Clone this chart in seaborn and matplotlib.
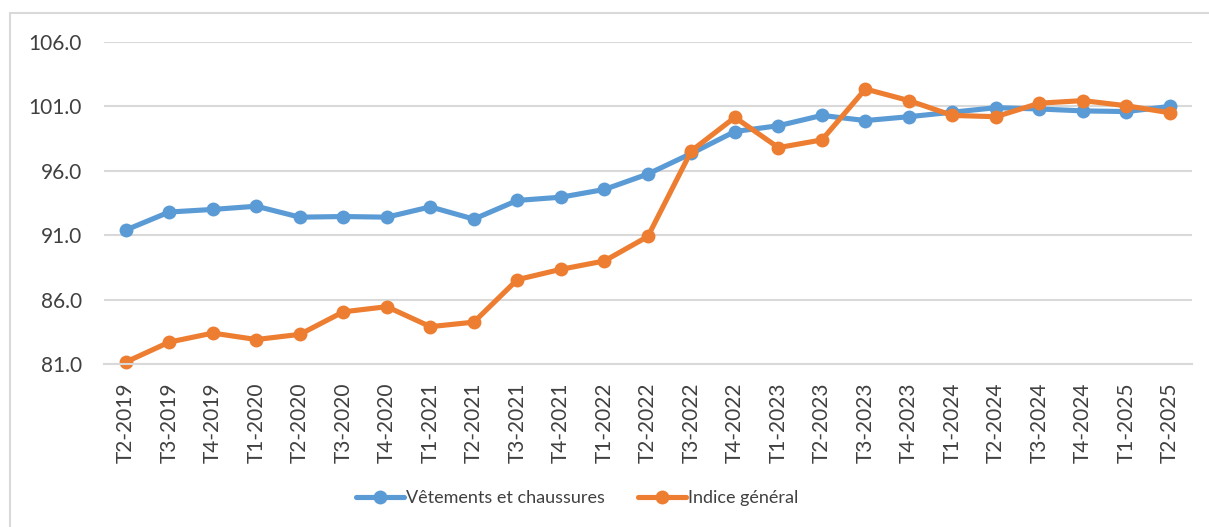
import pandas as pd
import matplotlib.pyplot as plt
import seaborn as sns
from matplotlib.patches import Rectangle

# quarters on the x axis
quarters = ['T2-2019', 'T3-2019', 'T4-2019', 'T1-2020', 'T2-2020', 'T3-2020', 'T4-2020',
            'T1-2021', 'T2-2021', 'T3-2021', 'T4-2021', 'T1-2022', 'T2-2022', 'T3-2022',
            'T4-2022', 'T1-2023', 'T2-2023', 'T3-2023', 'T4-2023', 'T1-2024', 'T2-2024',
            'T3-2024', 'T4-2024', 'T1-2025', 'T2-2025']

# index values
vetements = [91.4, 92.8, 93.0, 93.25, 92.4, 92.45, 92.4, 93.2, 92.25, 93.7, 93.95, 94.55,
             95.75, 97.35, 99.05, 99.5, 100.3, 99.9, 100.2, 100.55, 100.9, 100.8, 100.65,
             100.6, 101.0]
indice = [81.15, 82.7, 83.4, 82.9, 83.3, 85.05, 85.45, 83.9, 84.25, 87.55, 88.35, 89.0,
          90.9, 97.55, 100.15, 97.8, 98.4, 102.35, 101.45, 100.3, 100.2, 101.25, 101.45,
          101.05, 100.5]

series_names = ['Vêtements et chaussures', 'Indice général']
colors = ['#5B9BD5', '#ED7D31']
yticks = [81.0, 86.0, 91.0, 96.0, 101.0, 106.0]

df = pd.DataFrame({
    'trimestre': quarters * 2,
    'valeur': vetements + indice,
    'serie': [series_names[0]] * len(quarters) + [series_names[1]] * len(quarters),
})

sns.set_theme(style="white")
plt.rcParams['font.family'] = ['Lato', 'DejaVu Sans']
text_color = '#404040'

fig = plt.figure(figsize=(12.09, 5.27), dpi=100)
ax = fig.add_axes([104 / 1209, 1 - 364 / 527, (1191.75 - 104) / 1209, (364 - 42) / 527])

# outer chart border (only left and top visible)
fig.patches.append(Rectangle((10 / 1209, -0.1), 1.2, 1 - 13 / 527 + 0.1,
                             transform=fig.transFigure, fill=False,
                             edgecolor='#D9D9D9', linewidth=1.5, zorder=0))

sns.lineplot(data=df, x='trimestre', y='valeur', hue='serie', palette=colors,
             marker='o', markersize=10, markeredgewidth=0, linewidth=3.7,
             sort=False, ax=ax)

# let the markers sit over the axis edge like the original
for line in ax.lines:
    line.set_clip_on(False)

ax.set_xlim(-0.5, len(quarters) - 0.5)
ax.set_ylim(81, 106)
ax.set_yticks(yticks)
ax.set_yticklabels([f'{v:.1f}' for v in yticks])
ax.set_xticks(range(len(quarters)))
ax.set_xticklabels(quarters, rotation=90)
ax.tick_params(axis='y', length=0, pad=16, labelsize=15, labelcolor=text_color)
ax.tick_params(axis='x', length=0, pad=13, labelsize=15, labelcolor=text_color)
ax.set_xlabel('')
ax.set_ylabel('')

# gridlines in light gray
ax.yaxis.grid(True, color='#D9D9D9', linewidth=1.5)
ax.set_axisbelow(True)
for side in ['top', 'right', 'left']:
    ax.spines[side].set_visible(False)
ax.spines['bottom'].set_color('#D9D9D9')
ax.spines['bottom'].set_linewidth(1.5)

handles, labels = ax.get_legend_handles_labels()
ax.legend(handles, labels, loc='center', bbox_to_anchor=(577 / 1209, 29 / 527),
          bbox_transform=fig.transFigure, ncol=2, frameon=False, fontsize=13,
          handlelength=2.7, handletextpad=0.1, columnspacing=1.8,
          labelcolor=text_color)

plt.savefig('out.png', dpi=100)
